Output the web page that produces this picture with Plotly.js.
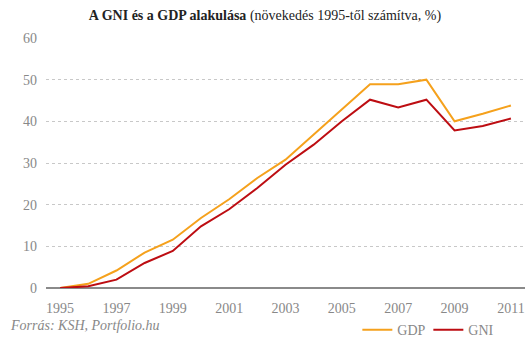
<!DOCTYPE html>
<html>
<head>
<meta charset="utf-8">
<script src="https://cdn.plot.ly/plotly-3.0.1.min.js"></script>
<style>html,body{margin:0;padding:0;background:#fff;}#chart{width:530px;height:341px;}</style>
</head>
<body>
<div id="chart"></div>
<script>
const years = [1995,1996,1997,1998,1999,2000,2001,2002,2003,2004,2005,2006,2007,2008,2009,2010,2011];
const gdp = [0,1.0,4.2,8.5,11.6,16.8,21.3,26.4,30.8,36.8,42.9,48.9,48.9,50.0,40.0,41.8,43.8];
const gni = [0,0.4,2.0,6.0,8.9,14.8,18.9,24.0,29.6,34.4,40.0,45.2,43.3,45.2,37.8,38.9,40.7];
const xTicks = [1995,1997,1999,2001,2003,2005,2007,2009,2011];
const yTicks = [0,10,20,30,40,50,60];

const serif = "Liberation Serif, DejaVu Serif, serif";
const traces = [
  {x: years, y: gdp, name: 'GDP', type: 'scatter', mode: 'lines', line: {color: '#f5a11c', width: 2}},
  {x: years, y: gni, name: 'GNI', type: 'scatter', mode: 'lines', line: {color: '#bd0d12', width: 2}}
];
const layout = {
  width: 530, height: 341,
  margin: {l: 46, r: 5, t: 38, b: 53, autoexpand: false},
  paper_bgcolor: '#fff', plot_bgcolor: '#fff',
  font: {family: serif, color: '#888', size: 14},
  title: {
    text: '<b>A GNI és a GDP alakulása</b> (növekedés 1995-től számítva, %)',
    font: {family: serif, size: 14, color: '#222'},
    x: 0.5, xanchor: 'center', y: 1 - 15/341, yanchor: 'middle', yref: 'container'
  },
  xaxis: {
    range: [1994.5, 2011.5], tickvals: xTicks, ticktext: xTicks.map(String),
    showgrid: false, zeroline: false, showline: false, ticks: '', ticklabelstandoff: 10,
    tickfont: {family: serif, size: 14, color: '#888'}, fixedrange: true
  },
  yaxis: {
    range: [0, 60], tickvals: yTicks, ticktext: yTicks.map(String),
    showgrid: true, gridcolor: '#c8c8c8', griddash: '3px,3px', gridwidth: 1,
    zeroline: true, zerolinecolor: '#8a8a8a', zerolinewidth: 1.5,
    showline: false, ticks: '', ticklabelstandoff: 8,
    tickfont: {family: serif, size: 14, color: '#888'}, fixedrange: true
  },
  showlegend: true,
  legend: {
    orientation: 'h', x: 0.65, xanchor: 'left', y: -0.105, yanchor: 'top',
    entrywidth: 26, entrywidthmode: 'pixels',
    font: {family: serif, size: 14, color: '#888'}, bgcolor: 'rgba(0,0,0,0)'
  },
  annotations: [{
    text: '<i>Forrás: KSH, Portfolio.hu</i>', xref: 'paper', yref: 'paper',
    x: -38/479, xanchor: 'left', y: -37/250, yanchor: 'middle', showarrow: false,
    font: {family: serif, size: 14, color: '#888'}
  }]
};
Plotly.newPlot('chart', traces, layout, {displayModeBar: false, staticPlot: true});
</script>
</body>
</html>
